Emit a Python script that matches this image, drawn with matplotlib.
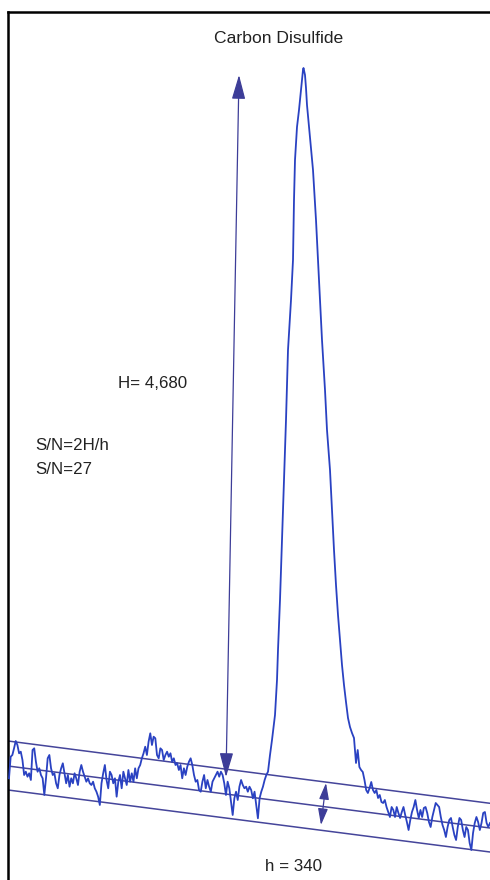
import numpy as np
import matplotlib
matplotlib.use("Agg")
import matplotlib.pyplot as plt
from matplotlib.patches import FancyArrowPatch

# ---- data (time in arbitrary units, response in arbitrary units) ----
# baseline before the peak (uniformly sampled)
left_start, left_end = 9, 268
left_resp = [101.7,123.3,125,131.7,139,135,126.7,128.3,120,105,
             108.3,103.3,106.7,100,130,131.7,118.3,108.3,111.7,105,
             101.7,85,101.7,121.7,125,111.7,105,106.7,96.7,91.7,
             105,111.7,116.7,106.7,96.7,105,93.3,101.7,96.7,106.7,
             101.7,95,108.3,115,108.3,103.3,98.3,101.7,96.7,95,
             98.3,91.7,88.3,83.3,75,96.7,106.7,115,100,91.7,
             108.3,105,96.7,101.7,83.3,98.3,105,91.7,108.3,101.7,
             95,110,98.3,106.7,98.3,111.7,101.7,111.7,115,121.7,
             126.7,133.3,125,138.3,146.7,135,143.3,141.7,125,121.7,
             131.7,130,120,125,128.3,123.3,126.7,118.3,121.7,115,
             116.7,110,115,101.7,111.7,105,113.3,118.3,121.7,115,
             105,98.3,100,90,88.3,98.3,105,91.7,100,93.3,
             88.3,98.3,101.7,105,108.3,103.3,108.3,105,96.7,85,
             98.3,91.7,78.3,65,81.7,88.3,80,93.3,100,95,
             91.7,93.3,88.3,93.3,90,81.7,88.3,75,61.7,81.7,
             88.3,93.3,100,105,108.3]

# the carbon disulfide peak
peak_time = [270,272,275,277,278,280,282,284,286,288,291,293,293.5,294,295,297,299,301,302,303,
             303.5,305,306,307,309,311,313,316,318,320,322,325,327,330,332,334,336,338,340,342,
             344,346,348,350,352,354]
peak_resp = [125,140,165,200,230,280,340,400,460,530,580,620,650,680,720,753,770,790,800,810,
             812,805,792,775,753,730,710,660,620,580,540,490,450,410,370,330,295,265,240,215,
             195,178,162,153,147,142]

# baseline after the peak (uniformly sampled)
tail_start, tail_end = 356, 490
tail_resp = [117,130,113,110,108,100,90,87,92,98,
             90,87,90,82,85,78,77,80,73,68,
             63,73,70,63,73,67,62,68,73,65,
             58,50,60,68,73,80,70,62,70,63,
             72,73,67,58,53,63,70,77,75,73,
             63,55,50,43,53,60,62,53,45,40,
             53,62,60,50,43,53,50,37,30,47,
             57,63,58,50,57,67,68,57,53,57]

# drifting noise band: upper, middle, lower lines at start / end time
band_time = [8, 490]
band_upper = [139, 76.7]
band_middle = [114, 52]
band_lower = [90, 28]

# signal height arrow (H) and noise arrow (h)
H_arrow_time = [239, 226]
H_arrow_resp = [805, 103]
h_arrow_time = [326, 321]
h_arrow_resp = [97, 55]

title_text = "Carbon Disulfide"
H_label = "H= 4,680"
sn_formula = "S/N=2H/h"
sn_value = "S/N=27"
h_label = "h = 340"

# ---- build series ----
left_time = np.linspace(left_start, left_end, len(left_resp))
tail_time = np.linspace(tail_start, tail_end, len(tail_resp))
time = np.concatenate([left_time, peak_time, tail_time])
resp = np.concatenate([left_resp, peak_resp, tail_resp])

plt.rcParams['font.family'] = ['Liberation Sans', 'DejaVu Sans']

fig = plt.figure(figsize=(4.9, 8.8), dpi=100)
ax = fig.add_axes([8/490, 0, 482/490, 868/880])
ax.set_xlim(8, 490)
ax.set_ylim(0, 868)
ax.set_xticks([])
ax.set_yticks([])
for s in ['right', 'bottom']:
    ax.spines[s].set_visible(False)
for s in ['left', 'top']:
    ax.spines[s].set_linewidth(1.8)
    ax.spines[s].set_color('black')

band_color = '#45459a'
for b in (band_upper, band_middle, band_lower):
    ax.plot(band_time, b, color=band_color, lw=1.1, zorder=2)

ax.plot(time, resp, color='#2a42c2', lw=1.3, zorder=3, clip_on=False)

arrow_color = '#3d3d98'
Harrow = FancyArrowPatch((H_arrow_time[0], H_arrow_resp[0]), (H_arrow_time[1], H_arrow_resp[1]),
                         arrowstyle='<|-|>,head_length=1.5,head_width=0.42',
                         mutation_scale=10, color=arrow_color, lw=0.9,
                         shrinkA=0, shrinkB=0, zorder=4)
ax.add_patch(Harrow)
harrow = FancyArrowPatch((h_arrow_time[0], h_arrow_resp[0]), (h_arrow_time[1], h_arrow_resp[1]),
                         arrowstyle='<|-|>,head_length=1.0,head_width=0.3',
                         mutation_scale=10, color=arrow_color, lw=0.9,
                         shrinkA=0, shrinkB=0, zorder=4)
ax.add_patch(harrow)

tc = '#222222'
fs = 12.2
ax.text(278.5, 841, title_text, ha='center', va='center', fontsize=12.6, color=tc)
ax.text(118, 497, H_label, ha='left', va='center', fontsize=fs, color=tc)
ax.text(35, 435, sn_formula, ha='left', va='center', fontsize=fs, color=tc)
ax.text(35, 410, sn_value, ha='left', va='center', fontsize=fs, color=tc)
ax.text(265, 14, h_label, ha='left', va='center', fontsize=fs, color=tc)

fig.savefig('out.png', dpi=100)
